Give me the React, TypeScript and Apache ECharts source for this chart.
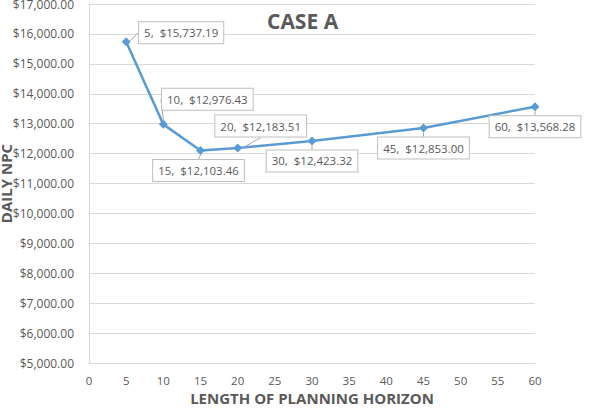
import React, { useEffect, useRef } from "react";
import * as echarts from "echarts";

const horizons = [5, 10, 15, 20, 30, 45, 60];
const dailyNpc = [15737.19, 12976.43, 12103.46, 12183.51, 12423.32, 12853.0, 13568.28];
const xTicks = [0, 5, 10, 15, 20, 25, 30, 35, 40, 45, 50, 55, 60];
const yMin = 5000;
const yMax = 17000;

// label box offsets (pixels) relative to each point
const labelDx = [55, 44, -2, 23, 0, 0, 0];
const labelDy = [-9, -25, 20, -22, 20, 20, 20];

const fmtMoney = (v: number) =>
  "$" + v.toLocaleString("en-US", { minimumFractionDigits: 2, maximumFractionDigits: 2 });

export default function App() {
  const ref = useRef<HTMLDivElement>(null);
  useEffect(() => {
    if (!ref.current) return;
    const chart = echarts.init(ref.current, undefined, { renderer: "svg" });
    const font = "'Open Sans', Lato, sans-serif";
    chart.setOption({
      animation: false,
      textStyle: { fontFamily: font },
      title: {
        text: "CASE A",
        left: 262,
        top: 5,
        textStyle: { fontFamily: font, fontSize: 21, fontWeight: "bold", color: "#595959" },
      },
      grid: { left: 89, right: 55, top: 4, bottom: 51, containLabel: false, outerBoundsMode: "none" },
      xAxis: {
        type: "value",
        min: 0,
        max: 60,
        interval: 5,
        name: "LENGTH OF PLANNING HORIZON",
        nameLocation: "middle",
        nameGap: 27,
        nameMoveOverlap: false,
        nameTextStyle: { fontFamily: font, fontSize: 15, fontWeight: "bold", color: "#595959" },
        axisLine: { show: true, lineStyle: { color: "#d9d9d9" } },
        axisTick: { show: false },
        splitLine: { show: false },
        axisLabel: {
          color: "#595959",
          fontSize: 11.5,
          margin: 11,
          formatter: (v: number) => (xTicks.includes(v) ? String(v) : ""),
        },
      },
      yAxis: {
        type: "value",
        min: yMin,
        max: yMax,
        interval: 1000,
        name: "DAILY NPC",
        nameLocation: "middle",
        nameGap: 76,
        nameMoveOverlap: false,
        nameRotate: 90,
        nameTextStyle: { fontFamily: font, fontSize: 15, fontWeight: "bold", color: "#595959" },
        axisLine: { show: true, lineStyle: { color: "#d9d9d9" } },
        axisTick: { show: false },
        splitLine: { show: true, lineStyle: { color: "#d9d9d9" } },
        axisLabel: { color: "#595959", fontSize: 12, margin: 15, formatter: (v: number) => fmtMoney(v) },
      },
      series: [
        {
          type: "line",
          data: horizons.map((h, i) => [h, dailyNpc[i]]),
          lineStyle: { color: "#5B9BD5", width: 2.5 },
          itemStyle: { color: "#5B9BD5" },
          symbol: "diamond",
          symbolSize: 9,
          label: {
            show: true,
            position: "inside",
            formatter: (p: any) => `${p.value[0]},  ${fmtMoney(p.value[1])}`,
            color: "#595959",
            fontSize: 11.5,
            fontFamily: font,
            backgroundColor: "#ffffff",
            borderColor: "#bfbfbf",
            borderWidth: 1,
            padding: [5, 5, 4, 5],
          },
          labelLine: { show: true, lineStyle: { color: "#a6a6a6", width: 1 } },
          labelLayout: (params: any) => ({
            dx: labelDx[params.dataIndex],
            dy: labelDy[params.dataIndex],
            hideOverlap: false,
          }),
        },
      ],
    });
    return () => chart.dispose();
  }, []);
  return <div ref={ref} style={{ width: 590, height: 414, position: "absolute", left: 0, top: 0 }} />;
}
